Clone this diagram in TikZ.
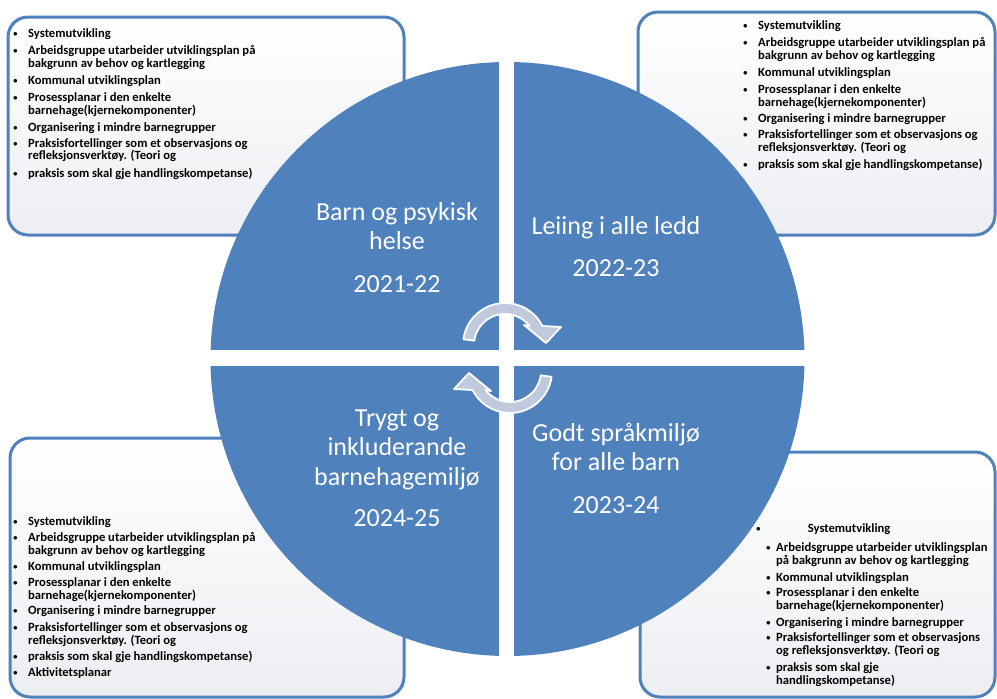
\documentclass[tikz,border=0pt]{standalone}
\usepackage{fontspec}
\setmainfont{Carlito}
\definecolor{qblue}{RGB}{79,129,189}
\definecolor{arrowfill}{RGB}{192,202,220}
\definecolor{boxbottom}{RGB}{236,238,242}
\newlength\bhang
\newcommand\bdot{\raisebox{0.3pt}{\fontsize{9}{9}\selectfont$\bullet$}}
\newcommand\bitem[1]{\makebox[\bhang][l]{\bdot}#1}
\newcommand\bcont[1]{\hspace*{\bhang}#1}
\begin{document}
\begin{tikzpicture}[x=1pt,y=-1pt,
  infobox/.style={draw=qblue, line width=3pt, rounded corners=20pt, top color=white, bottom color=boxbottom},
  boxtext/.style={anchor=base west, inner sep=0pt, font=\fontsize{12.6}{13}\selectfont\bfseries, text=black},
  qtitle/.style={anchor=base, inner sep=0pt, font=\fontsize{26}{29.5}\selectfont, text=white},
  quad/.style={fill=qblue},
  cyclearrow/.style={fill=arrowfill, draw=white, line width=1.8pt, line join=round}]
\useasboundingbox (0,0) rectangle (997,699);
\fill[white] (0,0) rectangle (997,699);

% text boxes
\path[infobox] (8,17) rectangle (404,235);
\path[infobox] (638,12) rectangle (995,235);
\path[infobox] (10,438) rectangle (404,697);
\path[infobox] (640,452) rectangle (995,697);

\node[boxtext] (tltext) at (13,37) {\setlength\bhang{15pt}\parbox[t]{390pt}{%
\bitem{Systemutvikling}\\[4pt]
\bitem{Arbeidsgruppe utarbeider utviklingsplan på}\\
\bcont{bakgrunn av behov og kartlegging}\\[4pt]
\bitem{Kommunal utviklingsplan}\\[4pt]
\bitem{Prosessplanar i den enkelte}\\
\bcont{barnehage(kjernekomponenter)}\\[4pt]
\bitem{Organisering i mindre barnegrupper}\\[3pt]
\bitem{Praksisfortellinger som et observasjons og}\\
\bcont{refleksjonsverktøy. (Teori og}\\[4pt]
\bitem{praksis som skal gje handlingskompetanse)}}};

\node[boxtext] (trtext) at (743,29) {\setlength\bhang{15pt}\parbox[t]{250pt}{%
\bitem{Systemutvikling}\\[4pt]
\bitem{Arbeidsgruppe utarbeider utviklingsplan på}\\
\bcont{bakgrunn av behov og kartlegging}\\[4pt]
\bitem{Kommunal utviklingsplan}\\[4pt]
\bitem{Prosessplanar i den enkelte}\\
\bcont{barnehage(kjernekomponenter)}\\[3pt]
\bitem{Organisering i mindre barnegrupper}\\[3pt]
\bitem{Praksisfortellinger som et observasjons og}\\
\bcont{refleksjonsverktøy. (Teori og}\\[4pt]
\bitem{praksis som skal gje handlingskompetanse)}}};

\node[boxtext] (bltext) at (13,525) {\setlength\bhang{15pt}\parbox[t]{390pt}{%
\bitem{Systemutvikling}\\[3pt]
\bitem{Arbeidsgruppe utarbeider utviklingsplan på}\\
\bcont{bakgrunn av behov og kartlegging}\\[3pt]
\bitem{Kommunal utviklingsplan}\\[3pt]
\bitem{Prosessplanar i den enkelte}\\
\bcont{barnehage(kjernekomponenter)}\\[2pt]
\bitem{Organisering i mindre barnegrupper}\\[4pt]
\bitem{Praksisfortellinger som et observasjons og}\\
\bcont{refleksjonsverktøy. (Teori og}\\[3pt]
\bitem{praksis som skal gje handlingskompetanse)}\\[3pt]
\bitem{Aktivitetsplanar}}};

\node[boxtext] (brfirst) at (756,532) {\bdot\hspace{47pt}Systemutvikling};
\node[boxtext] (brtext) at (766,551) {\setlength\bhang{10pt}\parbox[t]{230pt}{%
\bitem{Arbeidsgruppe utarbeider utviklingsplan}\\
\bcont{på bakgrunn av behov og kartlegging}\\[4pt]
\bitem{Kommunal utviklingsplan}\\[2pt]
\bitem{Prosessplanar i den enkelte}\\
\bcont{barnehage(kjernekomponenter)}\\[4pt]
\bitem{Organisering i mindre barnegrupper}\\[2pt]
\bitem{Praksisfortellinger som et observasjons}\\
\bcont{og refleksjonsverktøy. (Teori og}\\[4pt]
\bitem{praksis som skal gje}\\
\bcont{handlingskompetanse)}}};

% quadrants
\begin{scope}
  \clip (507.5,359) circle (297);
  \fill[quad] (150,50) rectangle (499,349.5);
  \fill[quad] (514,50) rectangle (860,349.5);
  \fill[quad] (150,366) rectangle (499,670);
  \fill[quad] (514,366) rectangle (860,670);
\end{scope}

% quadrant titles
\node[qtitle] (q1) at (397,220) {\parbox[t]{220pt}{\centering Barn og psykisk\\ helse}};
\node[qtitle] (y1) at (397,292) {2021-22};
\node[qtitle] (q2) at (616,234) {\parbox[t]{220pt}{\centering Leiing i alle ledd}};
\node[qtitle] (y2) at (616,276) {2022-23};
\node[qtitle] (q3) at (397,426) {\parbox[t]{220pt}{\centering Trygt og\\ inkluderande\\ barnehagemiljø}};
\node[qtitle] (y3) at (397,526) {2024-25};
\node[qtitle] (q4) at (616,441) {\parbox[t]{220pt}{\centering Godt språkmiljø\\ for alle barn}};
\node[qtitle] (y4) at (616,513) {2023-24};

% cycle arrows
\begin{scope}[shift={(505,345)}, yscale=-1]
  \path[cyclearrow] (172:42) arc[start angle=172, end angle=26.9, radius=42]
    -- (56,18) -- (41,2) -- (19,20) -- (37.8:31)
    arc[start angle=37.8, end angle=172, radius=31] -- cycle;
\end{scope}
\begin{scope}[rotate around={180:(507.5,358)}]
\begin{scope}[shift={(505,345)}, yscale=-1]
  \path[cyclearrow] (172:42) arc[start angle=172, end angle=26.9, radius=42]
    -- (56,18) -- (41,2) -- (19,20) -- (37.8:31)
    arc[start angle=37.8, end angle=172, radius=31] -- cycle;
\end{scope}
\end{scope}
\end{tikzpicture}
\end{document}
